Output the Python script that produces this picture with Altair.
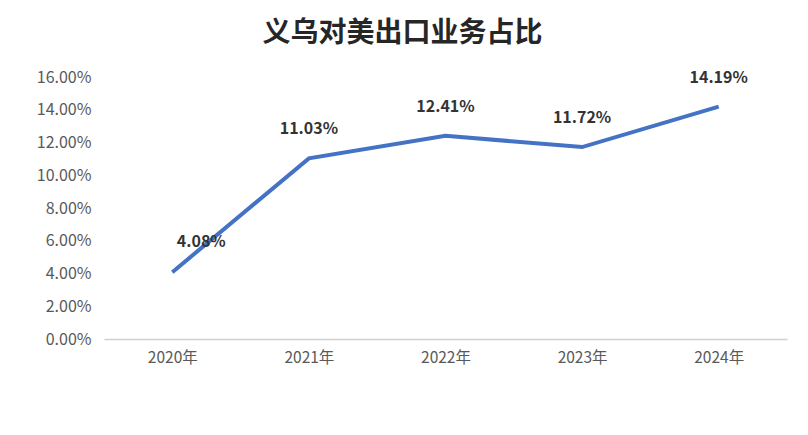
import altair as alt
import pandas as pd

years = ["2020年", "2021年", "2022年", "2023年", "2024年"]
shares = [0.0408, 0.1103, 0.1241, 0.1172, 0.1419]
y_ticks = [0, 0.02, 0.04, 0.06, 0.08, 0.10, 0.12, 0.14, 0.16]

df = pd.DataFrame({"year": years, "share": shares})

FONT = "Noto Sans CJK SC"

x = alt.X("year:N", sort=years, title=None,
          scale=alt.Scale(paddingInner=0, paddingOuter=0.5),
          axis=alt.Axis(labelAngle=0, labelFont=FONT, labelFontSize=15.5,
                        labelColor="#595959", ticks=False, domain=True,
                        domainColor="#d0d0d0", domainWidth=1.5,
                        labelPadding=11, grid=False))
y = alt.Y("share:Q", title=None,
          scale=alt.Scale(domain=[0, 0.16], nice=False),
          axis=alt.Axis(values=y_ticks, format=".2%", labelFont=FONT,
                        labelFontSize=16, labelColor="#595959", ticks=False,
                        domain=False, grid=False, labelPadding=13))

base = alt.Chart(df).encode(x=x, y=y)

line = base.mark_line(color="#4472C4", strokeWidth=4)

labels_main = base.transform_filter(alt.datum.year != years[0]).mark_text(
    font=FONT, fontSize=16, fontWeight="bold", color="#333333",
    baseline="middle", dy=-29
).encode(text=alt.Text("share:Q", format=".2%"))

labels_first = base.transform_filter(alt.datum.year == years[0]).mark_text(
    font=FONT, fontSize=16, fontWeight="bold", color="#333333",
    baseline="middle", dy=-30, dx=29
).encode(text=alt.Text("share:Q", format=".2%"))

chart = alt.layer(line, labels_main, labels_first).properties(
    width=683, height=262,
    title=alt.TitleParams("义乌对美出口业务占比", font=FONT, fontSize=28,
                          fontWeight="bold", color="#262626", dx=-43,
                          offset=21, anchor="middle"),
    autosize=alt.AutoSizeParams(type="none"),
    padding={"left": 96, "top": 69, "right": 13, "bottom": 88},
).configure(background="white").configure_view(strokeWidth=0)

chart.save("out.html", embed_options={"renderer": "svg", "actions": False})
